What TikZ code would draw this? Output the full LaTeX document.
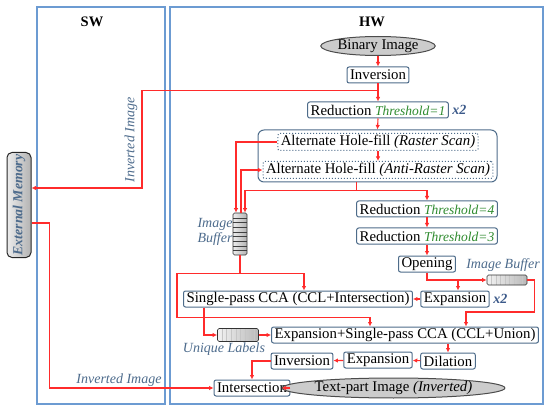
\documentclass[tikz,border=0pt]{standalone}
\usepackage{fontspec}
\setmainfont{Liberation Serif}
\usetikzlibrary{arrows.meta,calc,shapes.geometric}
\definecolor{framec}{HTML}{6C9BD2}
\definecolor{boxc}{HTML}{4E6C8A}
\definecolor{arrc}{HTML}{FF2B2B}
\definecolor{thrc}{HTML}{2E8B2E}
\definecolor{lblc}{HTML}{4D6B8C}
\definecolor{xtwo}{HTML}{3C5A8A}
\newcommand\thrtxt[1]{{\color{thrc}\fontsize{13.5}{14}\selectfont\itshape #1}}
\newcommand\xtwotxt{{\color{xtwo}\fontsize{14}{15}\selectfont\bfseries\itshape x2}}
\tikzset{
  proc/.style={draw=boxc, line width=1pt, rounded corners=2pt, fill=white,
    inner xsep=3pt, inner ysep=1pt, minimum height=16pt,
    font=\fontsize{14.8}{16}\selectfont},
  dotbox/.style={draw=boxc, dotted, line width=1pt, rounded corners=2pt,
    inner xsep=3pt, inner ysep=1pt, minimum height=17pt,
    font=\fontsize{14.8}{16}\selectfont},
  grpbox/.style={draw=boxc, line width=1pt, rounded corners=6pt},
  ell/.style={ellipse, draw=gray!60!black, fill=gray!40, line width=1pt,
    inner sep=0pt, font=\fontsize{14.8}{16}\selectfont},
  arr/.style={draw=arrc, line width=1.1pt, -{Latex[length=4.5pt,width=4.5pt]}},
  ln/.style={draw=arrc, line width=1.1pt},
  swframe/.style={draw=framec, line width=1.8pt},
  lbl/.style={text=lblc, font=\fontsize{14}{15}\selectfont\itshape},
  vbuf/.style={draw=gray!40!black, line width=0.7pt, rounded corners=1.5pt,
    left color=gray!15, right color=gray!60, minimum width=14pt,
    minimum height=42pt, inner sep=0pt,
    path picture={\foreach \i in {1,...,8}{\draw[gray!50!black, line width=0.3pt]
      ($(path picture bounding box.north west)!\i/9!(path picture bounding box.south west)$) --
      ($(path picture bounding box.north east)!\i/9!(path picture bounding box.south east)$);}}},
  hbuf/.style={draw=gray!40!black, line width=0.7pt, rounded corners=1.5pt,
    left color=gray!10, right color=gray!55, inner sep=0pt,
    path picture={\foreach \i in {1,...,8}{\draw[gray!45, line width=0.3pt]
      ($(path picture bounding box.north west)!\i/9!(path picture bounding box.north east)$) --
      ($(path picture bounding box.south west)!\i/9!(path picture bounding box.south east)$);}}},
}
\begin{document}
\begin{tikzpicture}[x=1pt,y=-1pt]
\useasboundingbox (0,0) rectangle (550,412);
% frames
\draw[swframe] (37,7) rectangle (165,404);
\draw[swframe] (170,7) rectangle (543,404);
\node[font=\fontsize{14.5}{15}\selectfont\bfseries] (swl) at (92,22) {SW};
\node[font=\fontsize{14.5}{15}\selectfont\bfseries] (hwl) at (372,22) {HW};

% external memory
\node[draw=gray!30!black, line width=1pt, rounded corners=5pt,
  left color=gray!15, right color=gray!60, minimum width=24pt,
  minimum height=105pt, inner sep=0pt] (ext) at (19,205) {};
\node[rotate=90, text=lblc, font=\fontsize{13.8}{15}\selectfont\bfseries\itshape] (extl) at (ext.center) {External Memory};

% nodes
\node[ell, minimum width=96pt, minimum height=19pt] (bin) at (378,46) {Binary Image};
\node[proc] (inv1) at (378,75) {Inversion};
\node[proc] (red1) at (378,110) {Reduction \thrtxt{Threshold=1}};
\node[anchor=west] (x2a) at (red1.east) {\xtwotxt};
\node[grpbox, minimum width=239pt, minimum height=52pt] (grp) at (377.5,156) {};
\node[dotbox] (hf1) at (378,142) {Alternate Hole-fill \textit{(Raster Scan)}};
\node[dotbox] (hf2) at (378,170) {Alternate Hole-fill \textit{(Anti-Raster Scan)}};
\node[proc] (red4) at (427,209) {Reduction \thrtxt{Threshold=4}};
\node[proc] (red3) at (427,236) {Reduction \thrtxt{Threshold=3}};
\node[proc] (open) at (427,264) {Opening};
\node[hbuf, minimum width=40pt, minimum height=10pt] (buf2) at (507,280) {};
\node[lbl] (buf2l) at (503,265) {Image Buffer};
\node[proc] (exp1) at (455,299) {Expansion};
\node[anchor=west] (x2b) at (exp1.east) {\xtwotxt};
\node[proc] (cca1) at (298,299) {Single-pass CCA (CCL+Intersection)};
\node[vbuf] (buf1) at (240,234) {};
\node[lbl, align=center] (buf1l) at (215,232) {Image\\Buffer};
\node[hbuf, minimum width=41pt, minimum height=13pt] (ulab) at (238,335) {};
\node[lbl] (ulabl) at (224,349) {Unique Labels};
\node[proc] (ecca) at (405,335) {Expansion+Single-pass CCA (CCL+Union)};
\node[proc] (dil) at (448,361) {Dilation};
\node[proc] (exp2) at (378,360) {Expansion};
\node[proc] (inv2) at (302,361) {Inversion};
\node[proc] (inter) at (252,388) {Intersection};
\node[ell, minimum width=187pt, minimum height=20pt] (txt) at (393.5,388) {Text-part Image \textit{(Inverted)}};
\node[lbl, rotate=90] (invl1) at (131,140) {Inverted Image};
\node[lbl] (invl2) at (119,380) {Inverted Image};

% connectors
\draw[arr] (bin) -- (inv1);
\draw[arr] (inv1) -- (red1);
\coordinate (j1) at ($(inv1.south)!0.4!(red1.north)$);
\draw[arr] (j1) -- ++(-236,0) |- ($(ext.east)+(0,-17)$);
\draw[arr] (red1.south) -- (grp.north);
\draw[arr] (hf1) -- (hf2);
\draw[arr] (hf1.west) -| ($(buf1.north)+(-4,0)$);
\draw[arr] ($(buf1.north)+(1,0)$) |- (hf2.west);
\draw[ln] (grp.south -| red4.west) -- ++(0,8) coordinate (j2);
\draw[arr] (j2) -| ($(buf1.north)+(5,0)$);
\draw[arr] (j2) -| (red4.north);
\draw[arr] (red4) -- (red3);
\draw[arr] (red3) -- (open);
\draw[arr] (open.south) |- (buf2.west);
\draw[arr] (open.south |- buf2.west) -| ($(exp1.north)+(3,0)$);
\draw[arr] (buf2.east) -- ++(7,0) -- ++(0,32) -| ($(ecca.north)+(61,0)$);
\draw[arr] (exp1) -- (cca1);
\draw[ln] (buf1.south) -- ++(0,18) coordinate (j3);
\draw[arr] (j3) -| ($(cca1.north)+(6,0)$);
\draw[arr] (j3) -| ++(-63,44) -| ($(ecca.north)+(-35,0)$);
\draw[arr] ($(cca1.south)+(-94,0)$) |- (ulab.west);
\draw[arr] (ulab) -- (ecca);
\draw[arr] (ecca.south -| dil.north) -- (dil.north);
\draw[arr] (dil) -- (exp2);
\draw[arr] (exp2) -- (inv2);
\draw[arr] (inv2.west) -| (inter.north);
\draw[arr] (inter) -- (txt);
\draw[arr] ($(ext.east)+(0,18)$) -- ++(18,0) |- (inter.west);
\end{tikzpicture}
\end{document}
